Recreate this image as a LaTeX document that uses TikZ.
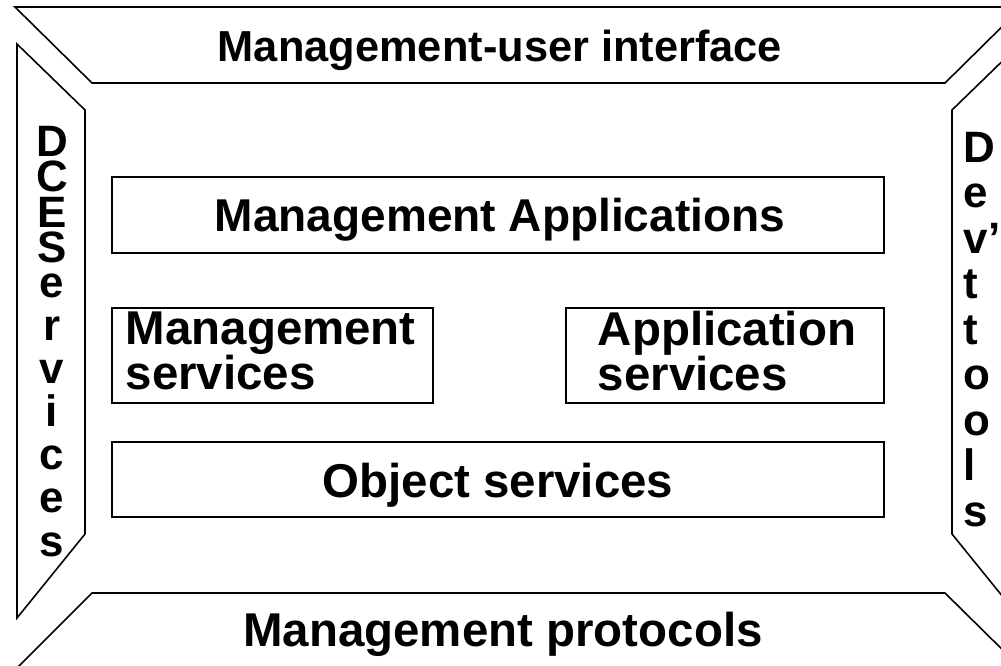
\documentclass[tikz,border=0pt]{standalone}
\usepackage{fontspec}
\setmainfont{Liberation Sans}
\begin{document}
\begin{tikzpicture}[x=0.02cm, y=-0.02cm, line width=0.9pt,
  box/.style={draw, inner sep=0pt},
  lbl/.style={font=\fontsize{27pt}{25.6pt}\selectfont\bfseries, inner sep=0pt},
  col/.style={font=\fontsize{25pt}{25pt}\selectfont\bfseries, inner sep=0pt}]
\useasboundingbox (0,0) rectangle (1001,666);
\clip (0,0) rectangle (1001,666);
% outer frame
\draw (15,7) -- (1022,7) -- (945,83) -- (92,83) -- cycle;
\draw (92,593) -- (945,593) -- (1022,669) -- (16,669) -- cycle;
\draw (17,44) -- (85,110) -- (85,534) -- (17,618) -- cycle;
\draw (952,110) -- (1020,44) -- (1020,618) -- (952,534) -- cycle;
\node[lbl, font=\fontsize{24.7pt}{25.6pt}\selectfont\bfseries, anchor=base] (ui) at (500,61) {Management-user interface};
\node[lbl, anchor=base] (proto) at (503,646) {Management protocols};
% side columns
\foreach \ch/\yy [count=\i] in {D/156, C/191.5, E/227, S/262.5, e/297, r/340.2, v/383.3, i/426.5, c/469.7, e/512.8, s/556}
  \node[col, anchor=base] (dce\i) at (52,\yy) {\ch};
\foreach \ch/\yy [count=\i] in {D/162, e/207.5, v’/253, t/298.5, t/344, o/389.5, o/435, l/480.5, s/526}
  \node[col, anchor=base west] (dev\i) at (963,\yy) {\ch};
% boxes
\node[box, minimum width=15.44cm, minimum height=1.52cm] (apps) at (498,215) {};
\node[lbl, font=\fontsize{26.2pt}{25.6pt}\selectfont\bfseries, anchor=base] (appstxt) at (500,231.5) {Management Applications};
\node[box, minimum width=6.42cm, minimum height=1.9cm] (msvc) at (272.5,355.5) {};
\node[lbl, anchor=west, align=left] (msvctxt) at (125,351) {Management\\services};
\node[box, minimum width=6.36cm, minimum height=1.9cm] (asvc) at (725,355.5) {};
\node[lbl, anchor=west, align=left] (asvctxt) at (597,351) {Application\\services};
\node[box, minimum width=15.44cm, minimum height=1.5cm] (obj) at (498,479.5) {};
\node[lbl, anchor=base] (objtxt) at (498,497) {Object services};
\end{tikzpicture}
\end{document}
